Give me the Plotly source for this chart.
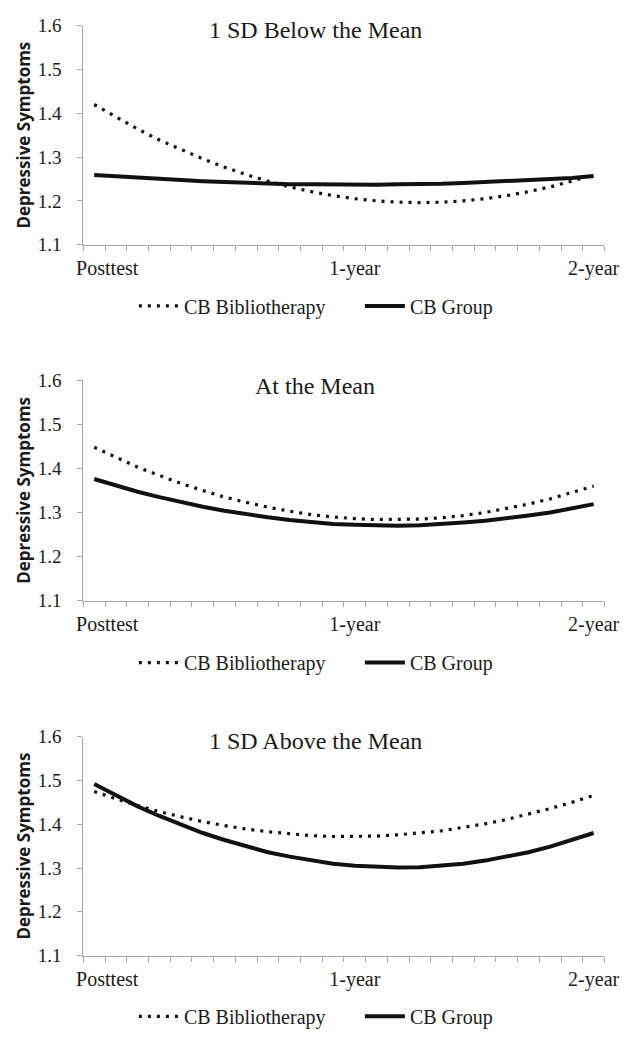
import plotly.graph_objects as go

# Time points (monthly steps from posttest to 2-year follow-up)
months = list(range(24))
tick_labels = ["Posttest", "1-year", "2-year"]
panel_titles = ["1 SD Below the Mean", "At the Mean", "1 SD Above the Mean"]
series_names = ["CB Bibliotherapy", "CB Group"]

# Predicted depressive symptoms, 1 SD below the mean
below_biblio = [1.420, 1.391, 1.364, 1.339, 1.317, 1.296, 1.277, 1.260, 1.245, 1.232,
                1.221, 1.212, 1.205, 1.200, 1.197, 1.196, 1.197, 1.200, 1.205, 1.212,
                1.221, 1.232, 1.245, 1.260]
below_group = [1.259, 1.256, 1.252, 1.249, 1.247, 1.245, 1.243, 1.241, 1.239, 1.238,
               1.238, 1.237, 1.237, 1.237, 1.238, 1.238, 1.239, 1.241, 1.243, 1.245,
               1.247, 1.249, 1.252, 1.257]

# At the mean
mean_biblio = [1.448, 1.425, 1.403, 1.384, 1.366, 1.350, 1.335, 1.323, 1.312, 1.303,
               1.295, 1.290, 1.286, 1.284, 1.284, 1.285, 1.288, 1.293, 1.300, 1.309,
               1.319, 1.331, 1.345, 1.360]
mean_group = [1.376, 1.361, 1.347, 1.335, 1.323, 1.313, 1.304, 1.296, 1.289, 1.283,
              1.278, 1.274, 1.272, 1.270, 1.270, 1.271, 1.273, 1.277, 1.281, 1.286,
              1.293, 1.300, 1.309, 1.319]

# 1 SD above the mean
above_biblio = [1.475, 1.458, 1.443, 1.429, 1.417, 1.406, 1.397, 1.389, 1.383, 1.378,
                1.374, 1.372, 1.372, 1.373, 1.376, 1.380, 1.385, 1.393, 1.401, 1.411,
                1.423, 1.436, 1.450, 1.466]
above_group = [1.492, 1.466, 1.441, 1.419, 1.399, 1.380, 1.364, 1.349, 1.336, 1.326,
               1.317, 1.310, 1.305, 1.302, 1.301, 1.302, 1.305, 1.310, 1.317, 1.326,
               1.336, 1.349, 1.364, 1.380]

panels = [(below_biblio, below_group), (mean_biblio, mean_group), (above_biblio, above_group)]

W, H = 634, 1042
# pixel geometry of each plot area: (top of 1.6, bottom of 1.1)
plot_rows = [(16, 239.5), (378, 602.7), (741.7, 965)]
legend_y_px = [302, 666, 1027]
title_y_px = [20, 384, 746]
x_left, x_right = 80, 619

AXIS_GRAY = "#a6a6a6"
TEXT = "#1a1a1a"
SERIF = "Liberation Serif"

fig = go.Figure()
annotations = []
layout = {}

for i, ((bib, grp), (top, bot)) in enumerate(zip(panels, plot_rows)):
    n = "" if i == 0 else str(i + 1)
    xa, ya = "x" + n, "y" + n
    leg = "legend" + n
    fig.add_trace(go.Scatter(
        x=months, y=bib, name=series_names[0], mode="lines",
        line=dict(color="#111111", width=3.2, dash="3px,6px"),
        xaxis=xa, yaxis=ya, legend=leg))
    fig.add_trace(go.Scatter(
        x=months, y=grp, name=series_names[1], mode="lines",
        line=dict(color="#111111", width=4),
        xaxis=xa, yaxis=ya, legend=leg))

    layout["xaxis" + n] = dict(
        domain=[x_left / W, x_right / W], anchor=ya, range=[-0.5, 23.5],
        showgrid=False, zeroline=False, showline=True, linecolor=AXIS_GRAY, linewidth=1.3,
        tickmode="array", tickvals=[0.6, 12, 23], ticktext=tick_labels, ticks="",
        ticklabelstandoff=5,
        tickfont=dict(family=SERIF, size=20, color=TEXT),
        minor=dict(tickmode="linear", tick0=-0.5, dtick=1, ticks="outside",
                   ticklen=5, tickcolor=AXIS_GRAY, tickwidth=1.3, showgrid=False),
        fixedrange=True)
    layout["yaxis" + n] = dict(
        domain=[1 - bot / H, 1 - top / H], anchor=xa, range=[1.1, 1.6],
        showgrid=False, zeroline=False, showline=True, linecolor=AXIS_GRAY, linewidth=1.3,
        tickmode="linear", tick0=1.1, dtick=0.1, tickformat=".1f",
        ticks="outside", ticklen=5, tickcolor=AXIS_GRAY, tickwidth=1.3,
        ticklabelstandoff=12,
        tickfont=dict(family=SERIF, size=19, color=TEXT),
        fixedrange=True)
    layout[leg] = dict(
        orientation="h", x=366 / W, xanchor="center", y=1 - legend_y_px[i] / H,
        yanchor="middle", font=dict(family=SERIF, size=20, color=TEXT),
        bgcolor="rgba(0,0,0,0)", itemwidth=40, entrywidth=171, entrywidthmode="pixels")

    annotations.append(dict(
        text=panel_titles[i], xref="paper", yref="paper", x=320 / W,
        y=1 - title_y_px[i] / H, xanchor="center", yanchor="middle",
        showarrow=False, font=dict(family=SERIF, size=24, color=TEXT)))
    annotations.append(dict(
        text="<b>Depressive Symptoms</b>", xref="paper", yref="paper",
        x=18 / W, y=1 - (top + bot) / 2 / H, xanchor="center", yanchor="middle",
        textangle=-90, showarrow=False,
        font=dict(family="Open Sans", size=17, color=TEXT)))

fig.update_layout(
    width=W, height=H, margin=dict(l=0, r=0, t=0, b=0),
    paper_bgcolor="white", plot_bgcolor="white",
    showlegend=True, annotations=annotations, **layout)

fig.write_html("out.html")
